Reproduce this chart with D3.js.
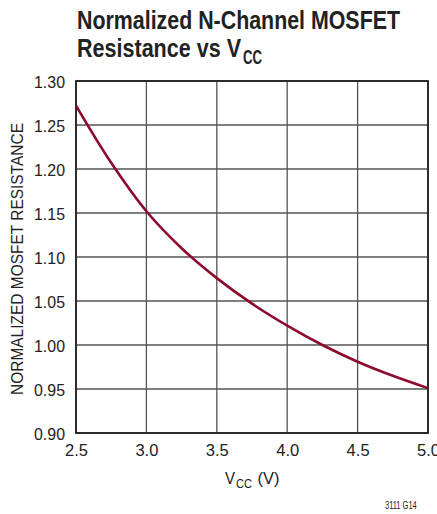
<!DOCTYPE html>
<html><head><meta charset="utf-8">
<script src="https://cdn.jsdelivr.net/npm/d3@7"></script>
<style>
body{margin:0;background:#fff;}
svg{display:block;font-family:"Liberation Sans","Arial",sans-serif;}
</style></head><body>
<svg id="c" width="437" height="514"></svg>
<script>
const vcc = [2.5, 2.75, 3.0, 3.25, 3.5, 3.75, 4.0, 4.25, 4.5, 4.75, 5.0];
const resistance = [1.272, 1.207, 1.152, 1.110, 1.076, 1.047, 1.022, 1.000, 0.981, 0.965, 0.951];
const xTicks = [2.5, 3.0, 3.5, 4.0, 4.5, 5.0];
const yTicks = [0.90, 0.95, 1.00, 1.05, 1.10, 1.15, 1.20, 1.25, 1.30];

const L = 76, R = 428, T = 81, B = 433;
const svg = d3.select("#c");
const x = d3.scaleLinear().domain([2.5, 5.0]).range([L, R]);
const y = d3.scaleLinear().domain([0.90, 1.30]).range([B, T]);
const ink = "#222";

function txt(str, px, py, size, len, opts = {}) {
  const t = svg.append("text").attr("x", px).attr("y", py).attr("font-size", size)
    .attr("fill", ink).text(str);
  if (len) t.attr("textLength", len).attr("lengthAdjust", "spacingAndGlyphs");
  if (opts.bold) t.attr("font-weight", "bold");
  if (opts.anchor) t.attr("text-anchor", opts.anchor);
  return t;
}

// grid
svg.append("g").selectAll("line").data(xTicks).join("line")
  .attr("x1", d => x(d)).attr("x2", d => x(d)).attr("y1", T).attr("y2", B)
  .attr("stroke", "#555").attr("stroke-width", 1.3);
svg.append("g").selectAll("line").data(yTicks).join("line")
  .attr("x1", L).attr("x2", R).attr("y1", d => y(d)).attr("y2", d => y(d))
  .attr("stroke", "#555").attr("stroke-width", 1.3);
// frame
svg.append("rect").attr("x", L).attr("y", T).attr("width", R - L).attr("height", B - T)
  .attr("fill", "none").attr("stroke", "#222").attr("stroke-width", 1.8);

// curve
const line = d3.line().x((d, i) => x(vcc[i])).y(d => y(d)).curve(d3.curveCatmullRom);
svg.append("path").attr("d", line(resistance)).attr("fill", "none")
  .attr("stroke", "#8c0a2c").attr("stroke-width", 2.6);

// tick labels
const yAxis = d3.axisLeft(y).tickValues(yTicks).tickFormat(d3.format(".2f")).tickSize(0).tickPadding(11);
const gy = svg.append("g").attr("transform", `translate(${L},0)`).call(yAxis);
gy.select(".domain").remove();
gy.selectAll("text").attr("font-size", 17).attr("fill", ink).attr("font-family", "inherit")
  .attr("dy", "0.4em").attr("textLength", 31).attr("lengthAdjust", "spacingAndGlyphs");

const xAxis = d3.axisBottom(x).tickValues(xTicks).tickFormat(d3.format(".1f")).tickSize(0).tickPadding(11);
const gx = svg.append("g").attr("transform", `translate(0,${B})`).call(xAxis);
gx.select(".domain").remove();
gx.selectAll("text").attr("font-size", 17).attr("fill", ink).attr("font-family", "inherit")
  .attr("textLength", 23).attr("lengthAdjust", "spacingAndGlyphs");

// x axis title
txt("V", 225, 484, 16, 10);
txt("CC", 236, 488, 13.5, 16);
txt("(V)", 257.5, 484, 16, 22);

// y axis title
svg.append("text").attr("transform", `translate(22.5,259) rotate(-90)`)
  .attr("text-anchor", "middle").attr("font-size", 16.5).attr("fill", ink)
  .attr("textLength", 272).attr("lengthAdjust", "spacingAndGlyphs")
  .text("NORMALIZED MOSFET RESISTANCE");

// title
txt("Normalized N-Channel MOSFET", 77, 28.5, 25, 323, { bold: true });
txt("Resistance vs V", 77, 57, 25, 164, { bold: true });
txt("CC", 243, 63.5, 21, 19, { bold: true });

// footnote
txt("3111 G14", 385, 509.3, 10, 31.7);
</script>
</body></html>
